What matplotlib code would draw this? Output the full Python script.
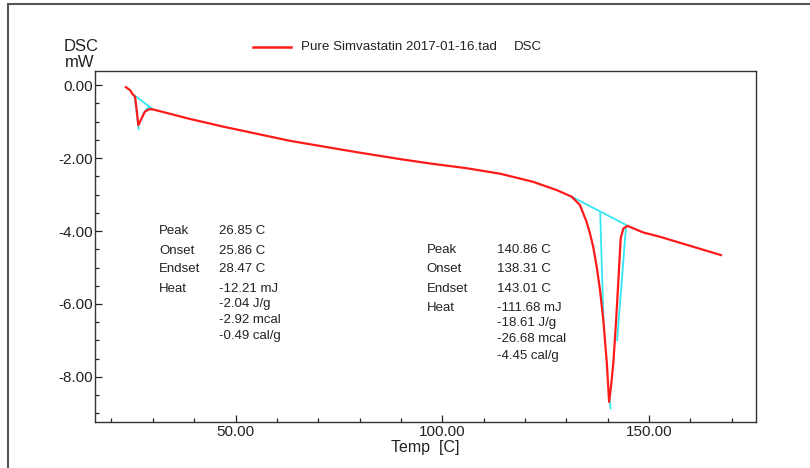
import matplotlib
matplotlib.use("Agg")
import matplotlib.pyplot as plt
from matplotlib.lines import Line2D
from matplotlib.ticker import MultipleLocator, FormatStrFormatter

plt.rcParams["font.family"] = ["Liberation Sans", "DejaVu Sans"]
plt.rcParams["axes.unicode_minus"] = False

# DSC curve
temp = [23.5, 24.5, 25.1, 25.7, 26.1, 26.5, 27.3, 28.1, 29.2, 30.1, 39.0, 47.0,
        63.2, 79.3, 89.8, 97.0, 105.9, 114.0, 121.9, 127.7, 131.3, 133.3, 134.9,
        135.7, 136.5, 137.35, 138.15, 138.95, 139.8, 140.35, 140.8, 141.37, 142.0,
        142.6, 143.15, 143.8, 144.8, 148.6, 152.7, 167.4]
dsc = [-0.06, -0.14, -0.25, -0.32, -0.68, -1.10, -0.91, -0.73, -0.66, -0.67, -0.93, -1.14,
       -1.53, -1.84, -2.03, -2.15, -2.28, -2.43, -2.65, -2.88, -3.06, -3.29, -3.75,
       -4.06, -4.43, -4.98, -5.62, -6.44, -7.62, -8.68, -8.27, -7.62, -6.53,
       -5.34, -4.20, -3.93, -3.86, -4.04, -4.16, -4.66]

# analysis construction lines (cyan)
base1_t, base1_y = [25.4, 30.1], [-0.27, -0.67]
tan1l_t, tan1l_y = [25.6, 26.6], [-0.34, -1.21]
tan1r_t, tan1r_y = [29.0, 27.7], [-0.59, -0.78]
base2_t, base2_y = [131.3, 144.9], [-3.06, -3.86]
tan2l_t, tan2l_y = [138.2, 139.0], [-3.52, -6.53]
tan2r_t, tan2r_y = [144.4, 142.3], [-3.93, -6.99]
tip2_t, tip2_y = [140.4, 140.7], [-8.54, -8.86]

labels = ["Peak", "Onset", "Endset", "Heat"]
peak1_vals = ["26.85 C", "25.86 C", "28.47 C", "-12.21 mJ"]
peak1_heat = ["-2.04 J/g", "-2.92 mcal", "-0.49 cal/g"]
peak2_vals = ["140.86 C", "138.31 C", "143.01 C", "-111.68 mJ"]
peak2_heat = ["-18.61 J/g", "-26.68 mcal", "-4.45 cal/g"]

W, H = 810, 468
fig = plt.figure(figsize=(W / 100, H / 100), dpi=100)
ax = fig.add_axes([94.5 / W, 1 - 422 / H, (755.7 - 94.5) / W, (422 - 70.7) / H])

red, cyan = "#ff1a1a", "#33e6f0"
for t, y in [(base1_t, base1_y), (tan1l_t, tan1l_y), (tan1r_t, tan1r_y),
             (base2_t, base2_y), (tan2l_t, tan2l_y), (tan2r_t, tan2r_y), (tip2_t, tip2_y)]:
    ax.plot(t, y, color=cyan, lw=1.3, zorder=2)
ax.plot(temp, dsc, color=red, lw=1.6, zorder=3)

ax.set_xlim(15.9, 175.8)
ax.set_ylim(-9.233, 0.392)
ax.xaxis.set_major_locator(MultipleLocator(50))
ax.xaxis.set_minor_locator(MultipleLocator(10))
ax.yaxis.set_major_locator(MultipleLocator(2))
ax.yaxis.set_minor_locator(MultipleLocator(0.5))
ax.xaxis.set_major_formatter(FormatStrFormatter("%.2f"))
ax.yaxis.set_major_formatter(FormatStrFormatter("%.2f"))
ax.tick_params(axis="x", which="major", direction="in", length=5, width=0.9, labelsize=11, pad=2, colors="#222222")
ax.tick_params(axis="x", which="minor", direction="in", length=3, width=0.9, colors="#222222")
ax.tick_params(axis="y", which="major", direction="in", length=5, width=0.9, labelsize=11, pad=1, colors="#222222")
ax.tick_params(axis="y", which="minor", direction="in", length=3, width=0.9, colors="#222222")
for s in ax.spines.values():
    s.set_color("#333333"); s.set_linewidth(1.0)
ax.set_xlabel("Temp  [C]", fontsize=11.5, labelpad=1, color="#222222")

def px(x, y):
    return x / W, 1 - y / H

fig.text(*px(64, 46.7), "DSC", fontsize=12, va="center", ha="left", color="#222222")
fig.text(*px(65, 62.3), "mW", fontsize=12, va="center", ha="left", color="#222222")
fig.add_artist(Line2D([253 / W, 291 / W], [1 - 46.7 / H] * 2, color=red, lw=1.8))
fig.text(*px(301, 46.7), "Pure Simvastatin 2017-01-16.tad", fontsize=9.6, va="center", ha="left", color="#222222")
fig.text(*px(514, 46.7), "DSC", fontsize=9.6, va="center", ha="left", color="#222222")

def block(x_lab, x_val, ys, vals, heat, heat_ys):
    for lab, v, y in zip(labels, vals, ys):
        fig.text(*px(x_lab, y), lab, fontsize=9.5, va="center", ha="left", color="#222222")
        fig.text(*px(x_val, y), v, fontsize=9.5, va="center", ha="left", color="#222222")
    for v, y in zip(heat, heat_ys):
        fig.text(*px(x_val, y), v, fontsize=9.5, va="center", ha="left", color="#222222")

block(159, 219, [231.5, 250.5, 269.5, 289], peak1_vals, peak1_heat, [304, 320, 336.5])
block(426.7, 497, [250, 269, 288.5, 308], peak2_vals, peak2_heat, [323, 339, 355.5])

# outer frame (top and left edges)
fig.add_artist(Line2D([8 / W, 1], [1 - 4 / H] * 2, color="#555555", lw=1.5))
fig.add_artist(Line2D([8 / W] * 2, [0, 1 - 4 / H], color="#555555", lw=1.5))

fig.savefig("out.png", dpi=100)
